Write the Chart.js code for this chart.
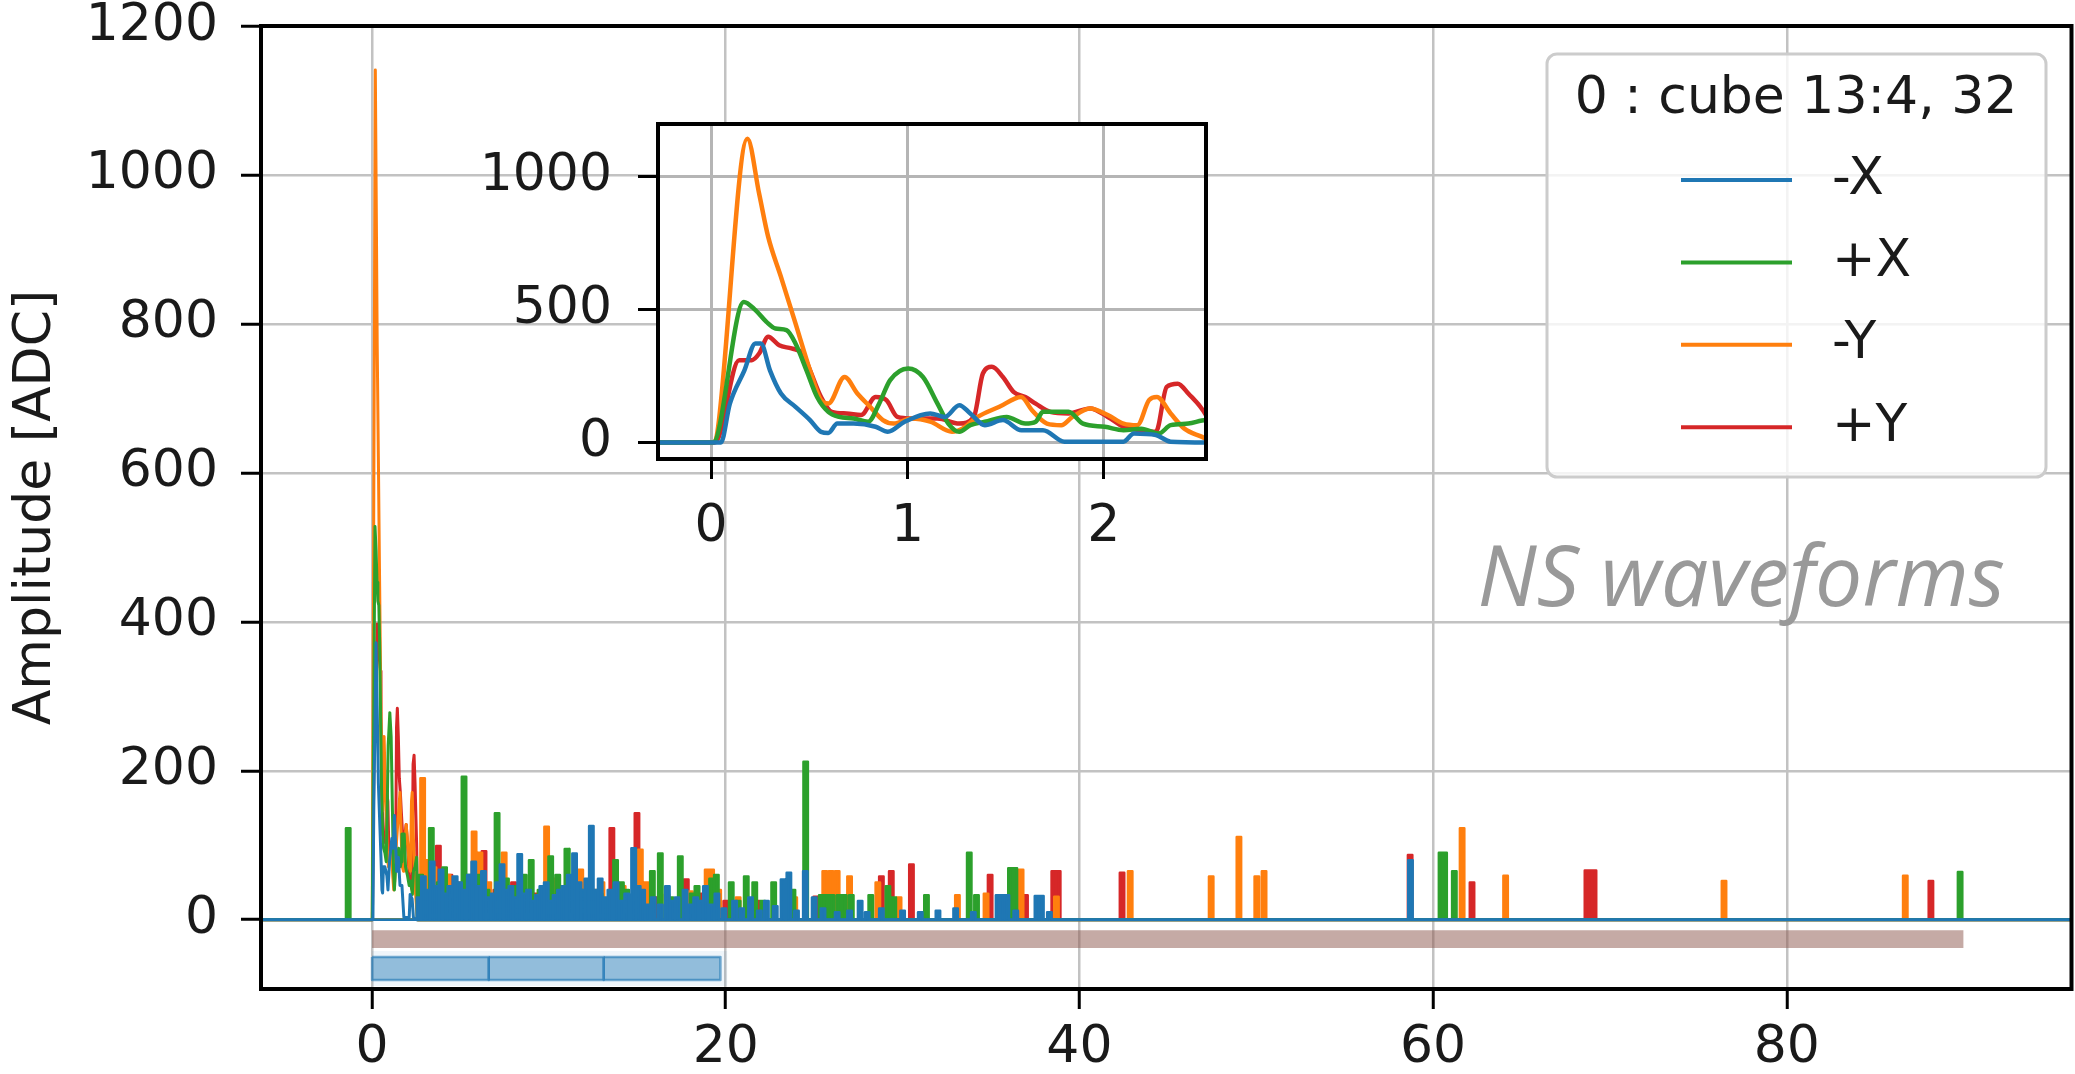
<!DOCTYPE html>
<html>
<head>
<meta charset="utf-8">
<script src="https://cdn.jsdelivr.net/npm/chart.js@4.4.1/dist/chart.umd.min.js"></script>
<style>
  html, body { margin: 0; padding: 0; background: #fff; }
  #wrap { position: relative; width: 2075px; height: 1074px; }
  #wrap canvas { position: absolute; left: 0; top: 0; }
</style>
</head>
<body>
<div id="wrap">
  <canvas id="main" width="2075" height="1074"></canvas>
  <canvas id="inset" width="2075" height="1074"></canvas>
</div>
<script>
// ---- data (time in µs, amplitude in ADC) ----
const seriesLabels = ['-X', '+X', '-Y', '+Y'];
const seriesColors = ['#1f77b4', '#2ca02c', '#ff7f0e', '#d62728'];
const legendTitle = '0 : cube 13:4, 32';
const xTicks = [0, 20, 40, 60, 80];
const yTicks = [0, 200, 400, 600, 800, 1000, 1200];
const insetXTicks = [0, 1, 2];
const insetYTicks = [0, 500, 1000];

// first 2.5 µs of each waveform
const minusXEarly = [[0.05,0],[0.096,146],[0.17,271],[0.226,372],[0.254,372],[0.3,271],[0.356,184],[0.43,134],[0.504,84],[0.56,40],[0.597,36],[0.643,71],[0.726,71],[0.838,59],[0.9,40],[0.986,78],[1.116,109],[1.19,96],[1.264,140],[1.32,109],[1.394,65],[1.486,84],[1.58,46],[1.69,46],[1.8,3],[2.1,3],[2.153,34],[2.265,28],[2.34,3],[2.52,0]];
const plusXEarly = [[0.01,0],[0.167,528],[0.226,497],[0.282,453],[0.328,428],[0.384,422],[0.43,372],[0.486,271],[0.54,171],[0.597,115],[0.652,96],[0.726,90],[0.8,78],[0.856,146],[0.912,234],[1.004,278],[1.079,246],[1.153,146],[1.208,71],[1.264,40],[1.32,65],[1.394,78],[1.505,96],[1.6,71],[1.653,78],[1.69,115],[1.82,115],[1.894,71],[2.005,59],[2.1,46],[2.19,52],[2.28,34],[2.34,65],[2.43,71],[2.52,84],[2.56,0]];
const minusYEarly = [[0.01,0],[0.185,1141],[0.245,934],[0.291,772],[0.356,622],[0.43,447],[0.504,271],[0.56,159],[0.597,146],[0.68,246],[0.745,184],[0.81,134],[0.875,84],[0.93,71],[1.02,90],[1.116,78],[1.227,40],[1.28,52],[1.357,96],[1.468,134],[1.579,171],[1.634,121],[1.71,71],[1.783,65],[1.84,96],[1.93,128],[2.02,103],[2.1,71],[2.17,65],[2.23,159],[2.27,171],[2.34,109],[2.41,52],[2.5,21],[2.56,0]];
const plusYEarly = [[0.02,0],[0.143,309],[0.208,309],[0.245,334],[0.291,397],[0.347,365],[0.41,353],[0.467,334],[0.504,271],[0.56,171],[0.615,115],[0.69,109],[0.764,103],[0.838,171],[0.893,159],[0.949,96],[1.02,90],[1.153,90],[1.264,71],[1.338,96],[1.384,259],[1.43,284],[1.486,246],[1.54,190],[1.6,171],[1.653,146],[1.727,115],[1.82,109],[1.93,128],[2.02,96],[2.1,59],[2.19,46],[2.265,40],[2.32,209],[2.376,221],[2.43,184],[2.52,103],[2.58,0]];

// later short pulses: [time, amplitude]
const minusXPulses = [[2.65,30],[2.9,58],[3.15,40],[3.4,78],[3.65,45],[3.9,67],[4.15,35],[4.4,45],[4.7,58],[4.95,50],[5.2,40],[5.5,60],[5.75,78],[6.05,45],[6.3,65],[6.6,30],[6.85,35],[7.1,50],[7.35,74],[7.6,40],[7.85,45],[8.1,30],[8.35,88],[8.6,35],[8.85,40],[9.1,25],[9.35,33],[9.6,45],[9.85,50],[10.1,25],[10.35,33],[10.6,40],[10.85,45],[11.15,60],[11.45,89],[11.7,50],[11.95,40],[12.15,55],[12.4,126],[12.65,40],[12.9,55],[13.2,30],[13.45,40],[13.8,50],[14.1,25],[14.4,35],[14.79,96],[15.05,45],[15.3,40],[15.6,20],[15.9,30],[16.3,20],[16.7,45],[17.0,25],[17.25,30],[17.7,40],[18.0,20],[18.3,30],[18.6,25],[18.85,45],[19.2,20],[19.5,35],[19.9,15],[20.5,25],[20.9,15],[21.4,30],[21.9,12],[22.3,25],[22.8,18],[23.24,54],[23.57,63],[24.0,12],[24.5,65],[25.0,30],[25.5,15],[26.3,10],[27.0,12],[27.6,25],[28.0,10],[28.8,15],[30.0,12],[31.0,10],[32.0,12],[33.0,15],[34.0,10],[35.4,33],[35.65,33],[35.9,33],[36.4,12],[37.6,32],[37.85,32],[38.3,10],[58.72,80]];
const plusXPulses = [[-1.35,123],[2.75,60],[3.35,123],[3.8,50],[4.1,70],[4.6,45],[5.2,192],[5.5,60],[6.0,60],[6.5,40],[7.07,143],[7.6,55],[8.2,45],[8.6,60],[9.0,80],[9.5,40],[10.1,85],[10.5,60],[11.02,95],[11.3,50],[11.8,40],[12.3,45],[12.9,35],[13.77,80],[14.1,50],[14.4,40],[15.0,30],[15.85,65],[16.3,89],[16.9,30],[17.43,85],[18.1,35],[18.38,45],[18.9,40],[19.2,55],[19.47,60],[20.31,50],[20.7,25],[21.16,58],[21.64,50],[22.1,25],[22.71,50],[23.8,40],[24.52,212],[25.4,33],[25.7,33],[26.0,33],[26.4,33],[26.7,33],[27.1,33],[28.2,33],[29.17,45],[29.5,30],[31.35,33],[33.77,90],[34.18,33],[36.1,69],[36.35,69],[60.45,90],[60.65,90],[61.2,65],[89.8,64]];
const minusYPulses = [[2.86,190],[3.2,80],[3.5,70],[4.3,60],[4.9,50],[5.77,118],[6.1,90],[6.6,50],[7.47,90],[8.1,40],[8.8,40],[9.87,125],[10.3,55],[10.8,45],[11.8,67],[12.6,40],[13.0,50],[13.6,30],[14.2,45],[15.17,94],[15.5,50],[16.68,34],[18.0,38],[18.95,67],[19.2,67],[19.6,40],[20.7,30],[23.9,30],[25.6,65],[25.95,65],[26.3,65],[27.0,58],[28.6,50],[29.8,30],[33.1,33],[34.72,35],[36.7,67],[38.7,31],[42.87,65],[47.45,58],[49.02,111],[50.03,58],[50.44,65],[61.64,123],[64.1,59],[76.45,52],[86.7,59]];
const plusYPulses = [[3.2,45],[3.75,99],[4.4,60],[5.0,40],[6.33,92],[7.0,40],[8.0,50],[9.2,35],[10.4,40],[11.2,30],[12.0,45],[13.56,123],[14.98,143],[16.0,30],[17.77,54],[18.7,35],[20.0,25],[21.8,25],[25.09,31],[28.8,58],[29.36,65],[30.5,74],[34.95,60],[36.95,33],[38.55,65],[38.8,65],[42.41,63],[58.7,87],[62.2,50],[68.7,66],[68.9,66],[69.1,66],[88.15,52]];

// windows drawn under the traces
const windowSpan = [0, 90];
const windowBand = [-14, -38];
const gateEdges = [0, 6.6, 13.1, 19.7];
const gateBand = [-50, -81];
const gateHaloSpan = [0, 20.1];
const gateHaloBand = [-42, -89];

const PULSE_WIDTH = 0.25;

// ---- build datasets ----
function tracePoints(early) {
  return [{x: -7, y: 0}, ...early.map(([x, y]) => ({x, y})), {x: 97, y: 0}];
}
function pulsePoints(pulses) {
  const pts = [{x: -7, y: 0}];
  pulses.slice().sort((a, b) => a[0] - b[0]).forEach(([t, v]) => {
    const a = t - PULSE_WIDTH / 2, b = t + PULSE_WIDTH / 2;
    pts.push({x: a, y: 0}, {x: a, y: v}, {x: b, y: v}, {x: b, y: 0});
  });
  pts.push({x: 97, y: 0});
  return pts;
}

const earlyList = [minusXEarly, plusXEarly, minusYEarly, plusYEarly];
const pulseList = [minusXPulses, plusXPulses, minusYPulses, plusYPulses];

const mainSets = [];
seriesLabels.forEach((lab, i) => {
  mainSets.push({label: lab + ' pulses', data: pulsePoints(pulseList[i]), borderColor: seriesColors[i],
    backgroundColor: seriesColors[i], borderWidth: 2.5, fill: 'origin'});
  mainSets.push({label: lab, data: tracePoints(earlyList[i]), borderColor: seriesColors[i],
    borderWidth: 3, fill: false});
});
// time windows
gateEdges.slice(0, -1).forEach((x0, i) => {
  const x1 = gateEdges[i + 1];
  mainSets.push({label: 'gate', data: [{x: x0, y: gateBand[0]}, {x: x1, y: gateBand[0]}],
    borderWidth: 0, backgroundColor: 'rgba(31,119,180,0.45)', fill: {value: gateBand[1]}});
  mainSets.push({label: 'gate edge', data: [{x: x0, y: gateBand[0]}, {x: x1, y: gateBand[0]}, {x: x1, y: gateBand[1]},
    {x: x0, y: gateBand[1]}, {x: x0, y: gateBand[0]}], borderWidth: 2.5, borderColor: 'rgba(31,119,180,0.6)', fill: false});
});
mainSets.push({label: 'gate halo', data: [{x: gateHaloSpan[0], y: gateHaloBand[0]}, {x: gateHaloSpan[1], y: gateHaloBand[0]}],
  borderWidth: 0, backgroundColor: 'rgba(31,119,180,0.07)', fill: {value: gateHaloBand[1]}});
mainSets.push({label: 'window', data: [{x: windowSpan[0], y: windowBand[0]}, {x: windowSpan[1], y: windowBand[0]}],
  borderWidth: 0, backgroundColor: 'rgba(140,86,75,0.5)', fill: {value: windowBand[1]}});

const insetSets = seriesLabels.map((lab, i) => ({label: lab, data: tracePoints(earlyList[i]),
  borderColor: seriesColors[i], borderWidth: 4.5, fill: false, cubicInterpolationMode: 'monotone'}));

// ---- plugins ----
const framePlugin = {
  id: 'frame',
  afterDatasetsDraw(chart, args, opts) {
    const {ctx, chartArea: a} = chart;
    ctx.save();
    ctx.strokeStyle = '#000';
    ctx.lineWidth = opts.width || 4;
    ctx.strokeRect(a.left, a.top, a.right - a.left, a.bottom - a.top);
    ctx.restore();
  }
};
const whiteAreaPlugin = {
  id: 'whiteArea',
  beforeDraw(chart) {
    const {ctx, chartArea: a} = chart;
    ctx.save();
    ctx.fillStyle = '#fff';
    ctx.fillRect(a.left, a.top, a.right - a.left, a.bottom - a.top);
    ctx.restore();
  }
};
const legendPlugin = {
  id: 'cubeLegend',
  afterDraw(chart) {
    const ctx = chart.ctx;
    ctx.save();
    ctx.beginPath();
    ctx.roundRect(1547, 54, 499, 423, 10);
    ctx.fillStyle = 'rgba(255,255,255,0.8)';
    ctx.fill();
    ctx.lineWidth = 3;
    ctx.strokeStyle = '#cccccc';
    ctx.stroke();
    ctx.font = '52px "DejaVu Sans"';
    ctx.fillStyle = '#1a1a1a';
    ctx.textAlign = 'center';
    ctx.textBaseline = 'middle';
    ctx.fillText(legendTitle, 1796, 99);
    ctx.textAlign = 'left';
    seriesLabels.forEach((lab, i) => {
      const y = 180 + i * 82.4;
      ctx.strokeStyle = seriesColors[i];
      ctx.lineWidth = 4;
      ctx.beginPath();
      ctx.moveTo(1681, y);
      ctx.lineTo(1792, y);
      ctx.stroke();
      ctx.fillText(lab, 1832, y);
    });
    ctx.font = 'italic 84px "Open Sans"';
    ctx.fillStyle = '#999999';
    ctx.textAlign = 'right';
    ctx.textBaseline = 'alphabetic';
    ctx.fillText('NS waveforms', 2005, 606);
    ctx.restore();
  }
};

Chart.defaults.font.family = '"DejaVu Sans", sans-serif';
Chart.defaults.color = '#1a1a1a';

const xTickFont = {size: 52, lineHeight: 1};
const yTickFont = {size: 52, lineHeight: 0.1};
const fmt = v => String(v);

new Chart(document.getElementById('main'), {
  type: 'line',
  data: {datasets: mainSets},
  options: {
    responsive: false,
    animation: false,
    layout: {padding: {left: 0, top: 26, right: 3.5, bottom: 0}},
    plugins: {legend: {display: false}, tooltip: {enabled: false}, frame: {width: 4}},
    elements: {point: {radius: 0}, line: {tension: 0, borderJoinStyle: 'round'}},
    scales: {
      x: {
        type: 'linear', min: -6.28, max: 96.1,
        afterFit: s => { s.height = 85; },
        afterBuildTicks: s => { s.ticks = xTicks.map(v => ({value: v})); },
        grid: {color: '#c2c2c2', lineWidth: 2.5, tickLength: 20, tickColor: '#000', tickWidth: 3},
        border: {display: false},
        ticks: {font: xTickFont, padding: 13, maxRotation: 0, autoSkip: false, callback: fmt}
      },
      y: {
        type: 'linear', min: -93, max: 1200,
        afterFit: s => { s.width = 261; },
        afterBuildTicks: s => { s.ticks = yTicks.map(v => ({value: v})); },
        grid: {color: '#c2c2c2', lineWidth: 2.5, tickLength: 20, tickColor: '#000', tickWidth: 3},
        border: {display: false},
        ticks: {font: yTickFont, padding: 23, autoSkip: false, callback: fmt},
        title: {display: true, text: 'Amplitude [ADC]', font: {size: 52, lineHeight: 1.2}, padding: {top: 5, bottom: 0}}
      }
    }
  },
  plugins: [framePlugin, legendPlugin]
});

new Chart(document.getElementById('inset'), {
  type: 'line',
  data: {datasets: insetSets},
  options: {
    responsive: false,
    animation: false,
    layout: {padding: {left: 438, top: 124, right: 869, bottom: 515}},
    plugins: {legend: {display: false}, tooltip: {enabled: false}, frame: {width: 4}},
    elements: {point: {radius: 0}, line: {tension: 0, borderJoinStyle: 'round'}},
    scales: {
      x: {
        type: 'linear', min: -0.27, max: 2.52,
        afterFit: s => { s.height = 100; },
        afterBuildTicks: s => { s.ticks = insetXTicks.map(v => ({value: v})); },
        grid: {color: '#b5b5b5', lineWidth: 3, tickLength: 20, tickColor: '#000', tickWidth: 3},
        border: {display: false},
        ticks: {font: xTickFont, padding: 22, maxRotation: 0, autoSkip: false, callback: fmt}
      },
      y: {
        type: 'linear', min: -62, max: 1196,
        afterFit: s => { s.width = 220; },
        afterBuildTicks: s => { s.ticks = insetYTicks.map(v => ({value: v})); },
        grid: {color: '#b5b5b5', lineWidth: 3, tickLength: 20, tickColor: '#000', tickWidth: 3},
        border: {display: false},
        ticks: {font: yTickFont, padding: 26, autoSkip: false, callback: fmt}
      }
    }
  },
  plugins: [whiteAreaPlugin, framePlugin]
});
</script>
</body>
</html>
